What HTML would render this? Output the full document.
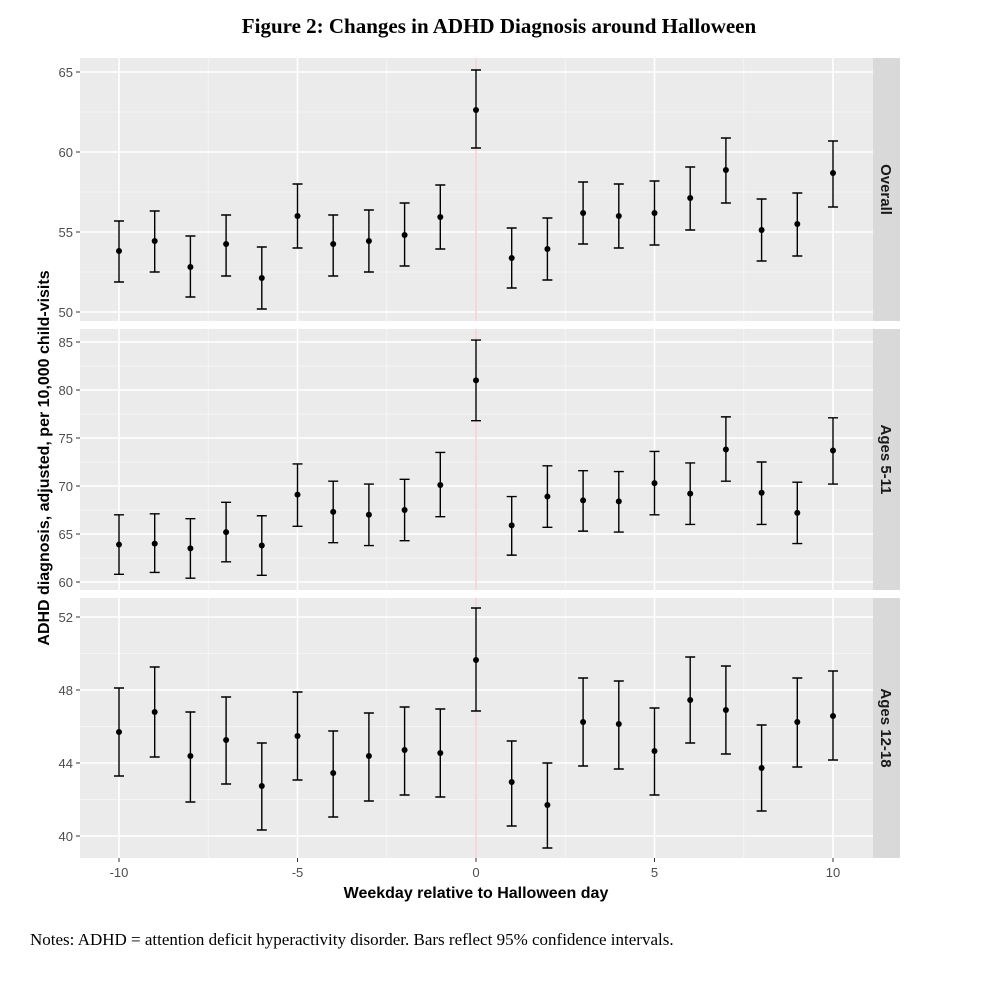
<!DOCTYPE html>
<html><head><style>
body{margin:0;background:#fff;width:999px;height:1000px;overflow:hidden}
</style></head><body>
<svg id="s" width="999" height="1000" xmlns="http://www.w3.org/2000/svg" font-family="Liberation Sans, sans-serif"></svg>
<script>
const s=document.getElementById('s');let h='';
h+='<text x="499" y="33" text-anchor="middle" font-family="Liberation Serif, serif" font-weight="bold" font-size="21">Figure 2: Changes in ADHD Diagnosis around Halloween</text>';
const X=v=>476+v*35.7;
const Y2=v=>582-(v-60)*9.6;
const p2v=[[63.9,67.0,60.8],[64.0,67.1,61],[63.5,66.6,60.4],[65.2,68.3,62.1],[63.8,66.9,60.7],[69.1,72.3,65.8],[67.3,70.5,64.1],[67,70.2,63.8],[67.5,70.7,64.3],[70.1,73.5,66.8],[81,85.2,76.8],[65.9,68.9,62.8],[68.9,72.1,65.7],[68.5,71.6,65.3],[68.4,71.5,65.2],[70.3,73.6,67],[69.2,72.4,66],[73.8,77.2,70.5],[69.3,72.5,66],[67.2,70.4,64],[73.7,77.1,70.2]];
const panels=[
{t:58,b:321,lab:'Overall',ticks:[[50,312],[55,232],[60,152],[65,72]],
d:[[251,221,282],[241,211,272],[267,236,297],[244,215,276],[278,247,309],[216,184,248],[244,215,276],[241,210,272],[235,203,266],[217,185,249],[110,70,148],[258,228,288],[249,218,280],[213,182,244],[216,184,248],[213,181,245],[198,167,230],[170,138,203],[230,199,261],[224,193,256],[173,141,207]]},
{t:329,b:590,lab:'Ages 5-11',ticks:[[60,582],[65,534],[70,486],[75,438],[80,390],[85,342]],
d:p2v.map(a=>a.map(Y2))},
{t:598,b:858,lab:'Ages 12-18',ticks:[[40,836],[44,763],[48,690],[52,617]],
d:[[732,688,776],[712,667,757],[756,712,802],[740,697,784],[786,743,830],[736,692,780],[773,731,817],[756,713,801],[750,707,795],[753,709,797],[660,608,711],[782,741,826],[805,763,848],[722,678,766],[724,681,769],[751,708,795],[700,657,743],[710,666,754],[768,725,811],[722,678,767],[716,671,760]]}
];
for(const p of panels){
 h+=`<rect x="80" y="${p.t}" width="793" height="${p.b-p.t}" fill="#ebebeb"/>`;
 h+=`<rect x="873" y="${p.t}" width="27" height="${p.b-p.t}" fill="#d9d9d9"/>`;
 const tk=p.ticks;const st=tk[1][1]-tk[0][1];
 for(let i=-1;i<tk.length;i++){const y=(i<0?tk[0][1]-st:tk[i][1])+st/2; if(y>p.t&&y<p.b) h+=`<line x1="80" x2="873" y1="${y}" y2="${y}" stroke="#f7f7f7" stroke-width="0.8"/>`;}
 for(const v of [-12.5,-7.5,-2.5,2.5,7.5,12.5]){const x=X(v);if(x>80&&x<873)h+=`<line x1="${x}" x2="${x}" y1="${p.t}" y2="${p.b}" stroke="#f7f7f7" stroke-width="0.8"/>`;}
 for(const [v,y] of tk){h+=`<line x1="80" x2="873" y1="${y}" y2="${y}" stroke="#fff" stroke-width="1.6"/><line x1="76" x2="80" y1="${y}" y2="${y}" stroke="#333"/><text x="73" y="${y+5}" text-anchor="end" font-size="13" fill="#4d4d4d">${v}</text>`;}
 for(const v of [-10,-5,0,5,10])h+=`<line x1="${X(v)}" x2="${X(v)}" y1="${p.t}" y2="${p.b}" stroke="#fff" stroke-width="1.6"/>`;
 h+=`<line x1="476" x2="476" y1="${p.t}" y2="${p.b}" stroke="#f4b6b6" stroke-width="1"/>`;
 p.d.forEach((d,i)=>{const x=X(i-10);h+=`<path d="M${x-5} ${d[1]}H${x+5}M${x} ${d[1]}V${d[2]}M${x-5} ${d[2]}H${x+5}" stroke="#000" stroke-width="1.4" fill="none"/><circle cx="${x}" cy="${d[0]}" r="3" fill="#000"/>`;});
 const cy=(p.t+p.b)/2;
 h+=`<text transform="translate(881 ${cy}) rotate(90)" text-anchor="middle" font-size="15" font-weight="bold" fill="#1a1a1a">${p.lab}</text>`;
}
for(const v of [-10,-5,0,5,10]){const x=X(v);h+=`<line x1="${x}" x2="${x}" y1="858" y2="862" stroke="#333"/><text x="${x}" y="877" text-anchor="middle" font-size="13" fill="#4d4d4d">${v}</text>`;}
h+='<text x="476" y="898" text-anchor="middle" font-size="16" font-weight="bold">Weekday relative to Halloween day</text>';
h+='<text transform="translate(49 458) rotate(-90)" text-anchor="middle" font-size="16" font-weight="bold">ADHD diagnosis, adjusted, per 10,000 child-visits</text>';
h+='<text x="30" y="945" font-family="Liberation Serif, serif" font-size="17">Notes: ADHD = attention deficit hyperactivity disorder. Bars reflect 95% confidence intervals.</text>';
s.innerHTML=h;
</script>
</body></html>
